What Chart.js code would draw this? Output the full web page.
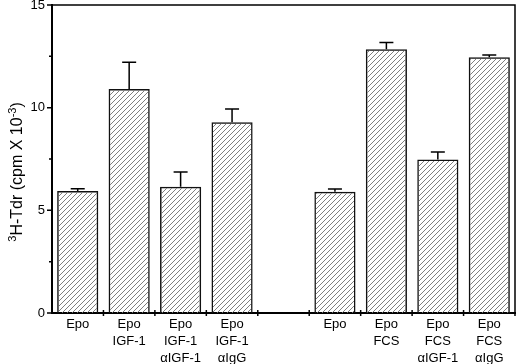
<!DOCTYPE html>
<html>
<head>
<meta charset="utf-8">
<script src="https://cdn.jsdelivr.net/npm/chart.js@4"></script>
<style>
html, body { margin: 0; padding: 0; background: #fff; }
</style>
</head>
<body>
<canvas id="chart" width="520" height="364"></canvas>
<script>
const labels = [['Epo'], ['Epo', 'IGF-1'], ['Epo', 'IGF-1', 'αIGF-1'], ['Epo', 'IGF-1', 'αIgG'], [''],
	['Epo'], ['Epo', 'FCS'], ['Epo', 'FCS', 'αIGF-1'], ['Epo', 'FCS', 'αIgG']];
const means = [5.94, 10.91, 6.15, 9.29, null, 5.91, 12.84, 7.47, 12.45];
const errors = [0.11, 1.30, 0.72, 0.65, null, 0.13, 0.33, 0.37, 0.12];
const majorTicks = [0, 5, 10, 15];
const minorTicks = [2.5, 7.5, 12.5];
const yTitle = [['3', true], ['H-Tdr (cpm X 10', false], ['-3', true], [')', false]];

const FONT = "'Liberation Sans', Arial, sans-serif";

function hatch() {
	var c = document.createElement('canvas');
	c.width = 5;
	c.height = 5;
	var g = c.getContext('2d');
	g.strokeStyle = '#707070';
	g.lineWidth = 0.9;
	g.beginPath();
	g.moveTo(-1, 6); g.lineTo(6, -1);
	g.moveTo(-1, 1); g.lineTo(1, -1);
	g.moveTo(4, 6); g.lineTo(6, 4);
	g.stroke();
	return g.createPattern(c, 'repeat');
}

var extras = {
	id: 'extras',
	afterDatasetsDraw: function(chart) {
		var ctx = chart.ctx, y = chart.scales.y;
		var meta = chart.getDatasetMeta(0);
		ctx.save();
		ctx.strokeStyle = '#000';
		ctx.lineWidth = 1.5;
		means.forEach(function(m, i) {
			if (m === null) return;
			var bx = meta.data[i].x;
			var y0 = y.getPixelForValue(m);
			var y1 = y.getPixelForValue(m + errors[i]);
			ctx.beginPath();
			ctx.moveTo(bx, y0); ctx.lineTo(bx, y1);
			ctx.moveTo(bx - 7, y1); ctx.lineTo(bx + 7, y1);
			ctx.stroke();
		});
		ctx.restore();
	},
	afterDraw: function(chart) {
		var ctx = chart.ctx, a = chart.chartArea, x = chart.scales.x, y = chart.scales.y;
		ctx.save();
		ctx.strokeStyle = '#000';
		// frame
		ctx.lineWidth = 1.5;
		ctx.beginPath();
		ctx.moveTo(a.left, a.top); ctx.lineTo(a.right, a.top); ctx.lineTo(a.right, a.bottom + 3);
		ctx.stroke();
		// y ticks
		ctx.beginPath();
		majorTicks.forEach(function(v) {
			var py = y.getPixelForValue(v);
			ctx.moveTo(a.left - 5, py); ctx.lineTo(a.left, py);
		});
		minorTicks.forEach(function(v) {
			var py = y.getPixelForValue(v);
			ctx.moveTo(a.left - 3, py); ctx.lineTo(a.left, py);
		});
		// x ticks at category boundaries
		var step = x.getPixelForValue(1) - x.getPixelForValue(0);
		for (var i = 1; i < labels.length; i++) {
			var px = x.getPixelForValue(i) - step / 2;
			ctx.moveTo(px, a.bottom - 3); ctx.lineTo(px, a.bottom + 3);
		}
		ctx.stroke();
		// y title with superscripts
		ctx.fillStyle = '#000';
		ctx.textBaseline = 'middle';
		ctx.translate(18, (a.top + a.bottom) / 2 + 13);
		ctx.rotate(-Math.PI / 2);
		var total = 0;
		yTitle.forEach(function(p) {
			ctx.font = (p[1] ? 11 : 16) + 'px ' + FONT;
			total += ctx.measureText(p[0]).width;
		});
		var cx = -total / 2;
		yTitle.forEach(function(p) {
			ctx.font = (p[1] ? 11 : 16) + 'px ' + FONT;
			ctx.fillText(p[0], cx, p[1] ? -5 : 0);
			cx += ctx.measureText(p[0]).width;
		});
		ctx.restore();
	}
};

new Chart(document.getElementById('chart'), {
	type: 'bar',
	data: {
		labels: labels,
		datasets: [{
			data: means,
			backgroundColor: hatch(),
			borderColor: '#111',
			borderWidth: 1.5,
			barPercentage: 0.8,
			categoryPercentage: 1
		}]
	},
	options: {
		responsive: false,
		animation: false,
		layout: { padding: { top: 5, right: 5, left: 0, bottom: 0 } },
		plugins: { legend: { display: false }, tooltip: { enabled: false } },
		scales: {
			x: {
				grid: { display: false, drawTicks: false },
				border: { display: true, color: '#000', width: 2 },
				ticks: { color: '#000', padding: 3, autoSkip: false, maxRotation: 0,
					font: { family: FONT, size: 13, lineHeight: 1.3 } },
				afterFit: function(s) { s.height = 51; s.paddingLeft = 0; s.paddingRight = 0; }
			},
			y: {
				min: 0,
				max: 15,
				grid: { display: false, drawTicks: false },
				border: { display: true, color: '#000', width: 2 },
				ticks: { stepSize: 5, color: '#000', padding: 7,
					font: { family: FONT, size: 13 } },
				afterFit: function(s) { s.width = 52; s.paddingTop = 0; s.paddingBottom = 0; }
			}
		}
	},
	plugins: [extras]
});
</script>
</body>
</html>
